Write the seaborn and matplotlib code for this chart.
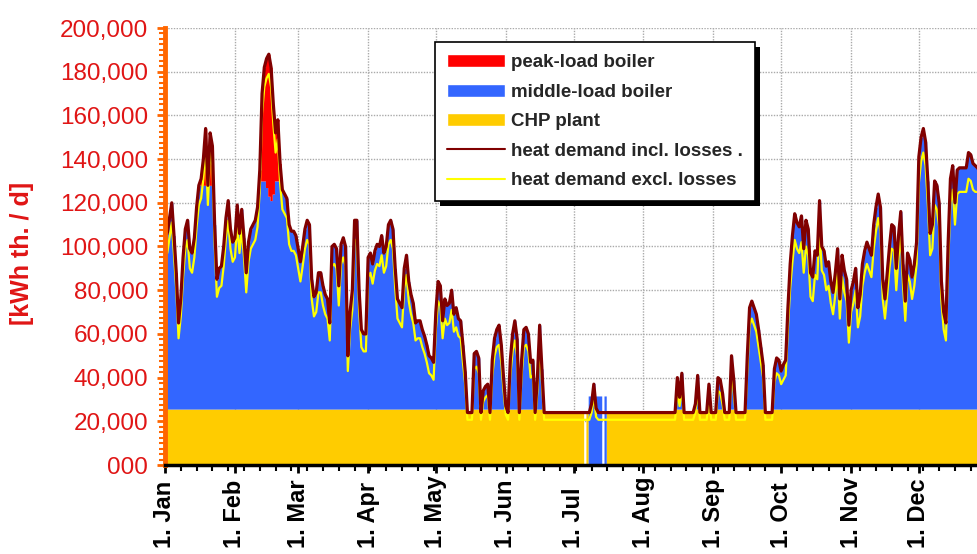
import numpy as np
import pandas as pd
import matplotlib
matplotlib.use("Agg")
import matplotlib.pyplot as plt
from matplotlib.patches import Patch, Rectangle
from matplotlib.lines import Line2D
from matplotlib.ticker import MultipleLocator, FuncFormatter
import seaborn as sns

# ---------------------------------------------------------------------------
# Daily heat demand including network losses [thousand kWh th. / d]
# ---------------------------------------------------------------------------
incl_jan = [117, 106, 113, 120, 105, 88, 65, 76, 95, 108, 112, 99, 97, 104, 118, 128,
            131, 140, 154, 128, 152, 146, 110, 85, 90, 91, 100, 113, 121, 108, 102]
incl_feb = [104, 119, 106, 117, 104, 88, 102, 108, 110, 112, 118, 135, 170, 182, 186,
            188, 182, 165, 152, 158, 138, 126, 124, 122, 110, 107, 107, 105]
incl_mar = [99, 93, 100, 108, 112, 110, 85, 77, 79, 88, 88, 82, 78, 76, 65, 100, 101,
            99, 82, 101, 104, 100, 50, 70, 80, 112, 112, 80, 62, 60, 60]
incl_apr = [95, 97, 92, 98, 101, 100, 105, 97, 100, 110, 112, 108, 90, 76, 74, 72, 90,
            96, 84, 78, 74, 65, 66, 66, 62, 59, 55, 50, 49, 47]
incl_may = [70, 84, 82, 66, 76, 73, 74, 80, 69, 72, 67, 66, 55, 43, 24, 24, 24, 51, 52,
            49, 24, 34, 36, 37, 24, 48, 58, 62, 64, 55, 40]
incl_jun = [27, 24, 48, 60, 66, 58, 24, 48, 62, 63, 60, 47, 48, 24, 40, 64, 44, 24,
            24, 24, 24, 24, 24, 24, 24, 24, 24, 24, 24, 24]
incl_jul = [24, 24, 24, 24, 24, 24, 24, 24, 28, 37, 26, 24, 24, 24, 24, 24, 24, 24, 24,
            24, 24, 24, 24, 24, 24, 24, 24, 24, 24, 24, 24]
incl_aug = [24, 24, 24, 24, 24, 24, 24, 24, 24, 24, 24, 24, 24, 24, 24, 40, 31, 42, 24,
            24, 24, 24, 24, 28, 41, 24, 24, 24, 24, 37, 24]
incl_sep = [24, 24, 40, 39, 33, 24, 24, 24, 50, 39, 24, 24, 24, 24, 24, 50, 72, 75, 72,
            69, 62, 54, 46, 24, 24, 24, 24, 44, 49, 48]
incl_oct = [43, 46, 48, 72, 92, 105, 115, 111, 109, 114, 99, 112, 108, 88, 86, 98, 96,
            121, 100, 98, 91, 93, 84, 79, 88, 99, 76, 96, 89, 85, 64]
incl_nov = [80, 84, 90, 72, 78, 92, 98, 102, 99, 96, 110, 118, 124, 118, 85, 76, 88,
            100, 110, 109, 90, 105, 116, 92, 75, 97, 94, 86, 92, 102]
incl_dec = [141, 150, 154, 148, 130, 106, 110, 130, 128, 120, 84, 70, 65, 102, 131,
            137, 120, 135, 136, 136, 136, 136, 143, 142, 138, 137, 136, 134, 135, 133, 130]

# Daily heat demand excluding network losses [thousand kWh th. / d]
excl_jan = [108, 97, 104, 111, 96, 80, 58, 68, 86, 99, 103, 90, 88, 95, 109, 119, 122,
            131, 145, 119, 143, 137, 101, 77, 81, 82, 91, 104, 112, 99, 93]
excl_feb = [95, 110, 97, 108, 95, 79, 93, 99, 101, 103, 109, 126, 161, 173, 177, 179,
            173, 156, 143, 149, 129, 117, 115, 113, 101, 98, 98, 96]
excl_mar = [90, 84, 91, 99, 103, 101, 76, 68, 70, 79, 79, 73, 69, 67, 57, 91, 92, 90,
            73, 92, 95, 91, 43, 62, 71, 103, 103, 71, 54, 52, 52]
excl_apr = [86, 88, 83, 89, 92, 91, 96, 88, 91, 101, 103, 99, 81, 67, 65, 63, 81, 87,
            75, 69, 65, 57, 58, 58, 54, 51, 47, 42, 41, 39]
excl_may = [62, 75, 73, 58, 67, 64, 65, 71, 61, 63, 59, 58, 47, 37, 20.7, 20.7, 20.7,
            44, 45, 42, 20.7, 29, 31, 32, 20.7, 41, 50, 54, 55, 47, 34]
excl_jun = [23, 20.7, 41, 52, 57, 50, 20.7, 41, 54, 55, 52, 40, 41, 20.7, 34, 55, 38,
            20.7, 20.7, 20.7, 20.7, 20.7, 20.7, 20.7, 20.7, 20.7, 20.7, 20.7, 20.7, 20.7]
excl_jul = [20.7, 20.7, 20.7, 20.7, 20.7, 20.7, 20.7, 20.7, 24, 32, 22, 20.7, 20.7,
            20.7, 20.7, 20.7, 20.7, 20.7, 20.7, 20.7, 20.7, 20.7, 20.7, 20.7, 20.7,
            20.7, 20.7, 20.7, 20.7, 20.7, 20.7]
excl_aug = [20.7, 20.7, 20.7, 20.7, 20.7, 20.7, 20.7, 20.7, 20.7, 20.7, 20.7, 20.7,
            20.7, 20.7, 20.7, 34, 27, 36, 20.7, 20.7, 20.7, 20.7, 20.7, 24, 35, 20.7,
            20.7, 20.7, 20.7, 32, 20.7]
excl_sep = [20.7, 20.7, 34, 33, 28, 20.7, 20.7, 20.7, 43, 33, 20.7, 20.7, 20.7, 20.7,
            20.7, 43, 64, 67, 64, 61, 54, 47, 40, 20.7, 20.7, 20.7, 20.7, 38, 42, 41]
excl_oct = [37, 39, 41, 63, 81, 93, 103, 99, 97, 102, 88, 100, 96, 77, 75, 87, 85, 108,
            89, 87, 80, 82, 74, 69, 78, 88, 67, 86, 79, 75, 56]
excl_nov = [70, 74, 80, 63, 68, 82, 88, 92, 89, 86, 99, 107, 113, 107, 76, 67, 78, 90,
            99, 98, 80, 95, 105, 82, 66, 87, 84, 76, 82, 92]
excl_dec = [129, 139, 143, 137, 119, 96, 99, 119, 117, 109, 75, 62, 57, 92, 120, 126,
            110, 124, 125, 125, 125, 125, 131, 130, 126, 125, 125, 123, 124, 122, 119]

heat_incl_k = (incl_jan + incl_feb + incl_mar + incl_apr + incl_may + incl_jun +
               incl_jul + incl_aug + incl_sep + incl_oct + incl_nov + incl_dec)
heat_excl_k = (excl_jan + excl_feb + excl_mar + excl_apr + excl_may + excl_jun +
               excl_jul + excl_aug + excl_sep + excl_oct + excl_nov + excl_dec)

# Generation units
chp_capacity_k = 25.6                      # CHP plant base load
peak_jan_days = [16, 17, 18, 19, 20, 21]   # peak-load boiler in operation
peak_jan_k = [3, 12, 26, 0, 24, 18]
peak_feb_days = [42, 43, 44, 45, 46, 47, 48, 49, 50, 51]
peak_feb_k = [5, 40, 52, 59, 65, 61, 41, 22, 28, 8]
outage_days = [186, 187, 188, 189, 190, 191, 192, 193, 194, 195]   # CHP revision
outage_chp_k = [0, 24, 0, 0, 0, 0, 0, 0, 0, 0]
outage_middle_k = [0, 0, 31.6, 31.6, 37.4, 31.6, 31.6, 31.6, 0, 31.6]

month_starts = [0, 31, 59, 90, 120, 151, 181, 212, 243, 273, 304, 334]
month_labels = ["1. Jan", "1. Feb", "1. Mar", "1. Apr", "1. May", "1. Jun",
                "1. Jul", "1. Aug", "1. Sep", "1. Oct", "1. Nov", "1. Dec"]

# ---------------------------------------------------------------------------
days = np.arange(len(heat_incl_k))
incl = np.array(heat_incl_k, dtype=float) * 1000
excl = np.array(heat_excl_k, dtype=float) * 1000

peak = np.zeros_like(incl)
peak[peak_jan_days] = np.array(peak_jan_k) * 1000
peak[peak_feb_days] = np.array(peak_feb_k) * 1000

chp = np.minimum(incl, chp_capacity_k * 1000)
chp[outage_days] = np.array(outage_chp_k) * 1000
middle = np.clip(incl - chp - peak, 0, None)
middle[outage_days] = np.array(outage_middle_k) * 1000

df = pd.DataFrame({"day": days, "incl": incl, "excl": excl})

sns.set_theme(style="white")
plt.rcParams["font.family"] = ["Liberation Sans", "DejaVu Sans"]

C_PEAK, C_MID, C_CHP = "#ff0000", "#3366ff", "#ffcc00"
C_INCL, C_EXCL = "#800000", "#ffff00"
C_RED_TXT = "#e01515"

W, H = 978, 554
fig = plt.figure(figsize=(W / 100, H / 100), dpi=100)
ax = fig.add_axes([165 / W, 1 - 465 / H, (W - 165) / W, 437 / H])

# stacked supply areas
ax.fill_between(days, 0, chp, step="mid", color=C_CHP, lw=0, zorder=1)
ax.fill_between(days, chp, chp + middle, step="mid", color=C_MID, lw=0, zorder=1)
ax.fill_between(days, chp + middle, chp + middle + peak, step="mid",
                color=C_PEAK, lw=0, zorder=1)

# demand lines
sns.lineplot(data=df, x="day", y="excl", color=C_EXCL, lw=1.6, ax=ax, zorder=2)
sns.lineplot(data=df, x="day", y="incl", color=C_INCL, lw=2.3, ax=ax, zorder=3)

ax.set_xlim(0, (W - 165) / 2.257)
ax.set_ylim(0, 200000)
ax.set_xlabel("")
ax.set_ylabel("[kWh th. / d]", color=C_RED_TXT, fontweight="bold", fontsize=18)
ax.yaxis.set_label_coords(-0.161, 0.483)

# axes, ticks and grid
ax.yaxis.set_major_locator(MultipleLocator(20000))
ax.yaxis.set_minor_locator(MultipleLocator(2500))
ax.yaxis.set_major_formatter(FuncFormatter(lambda v, p: "000" if v == 0 else f"{v:,.0f}"))
ax.set_xticks(month_starts, labels=month_labels, rotation=90, rotation_mode="anchor",
              ha="left", va="center", fontweight="bold", fontsize=17)
ax.xaxis.set_minor_locator(MultipleLocator(7))

ax.tick_params(axis="y", which="major", left=True, length=6, width=2,
               color="#ff6600", labelcolor=C_RED_TXT, labelsize=17.5, pad=6)
ax.tick_params(axis="y", which="minor", left=True, length=4, width=1.5, color="#ff6600")
ax.tick_params(axis="x", which="major", bottom=True, length=6, width=2, color="black",
               labelcolor="black", pad=54)
ax.tick_params(axis="x", which="minor", bottom=True, length=4, width=1.5, color="black")

ax.set_axisbelow(True)
ax.grid(True, which="major", color="#aaaaaa", linestyle=(0, (1, 1)), linewidth=1)

for s in ("top", "right"):
    ax.spines[s].set_visible(False)
ax.spines["left"].set_color("#ff6600")
ax.spines["left"].set_linewidth(3.5)
ax.spines["bottom"].set_color("black")
ax.spines["bottom"].set_linewidth(2.5)
ax.spines["left"].set_zorder(4)
ax.spines["bottom"].set_zorder(4)

# legend
handles = [Patch(facecolor=C_PEAK, label="peak-load boiler"),
           Patch(facecolor=C_MID, label="middle-load boiler"),
           Patch(facecolor=C_CHP, label="CHP plant"),
           Line2D([], [], color=C_INCL, lw=1.5, label="heat demand incl. losses ."),
           Line2D([], [], color=C_EXCL, lw=1.5, label="heat demand excl. losses")]
leg = ax.legend(handles=handles, loc="upper left", bbox_to_anchor=(0.332, 0.968),
                borderaxespad=0, frameon=True, fancybox=False, framealpha=1,
                edgecolor="black", facecolor="white", handlelength=3.1,
                handletextpad=0.3, labelspacing=0.66, borderpad=0.65,
                prop={"weight": "bold", "size": 13.5})
leg.get_frame().set_linewidth(1.2)
leg.set_zorder(6)

fig.canvas.draw()
bb = leg.get_frame().get_window_extent()
(x0, y0), (x1, y1) = ax.transAxes.inverted().transform([[bb.x0 + 5, bb.y0 - 5],
                                                        [bb.x1 + 5, bb.y1 - 5]])
ax.add_patch(Rectangle((x0, y0), x1 - x0, y1 - y0, transform=ax.transAxes,
                       facecolor="black", edgecolor="none", zorder=5.9, clip_on=False))

fig.savefig("out.png", dpi=100)
